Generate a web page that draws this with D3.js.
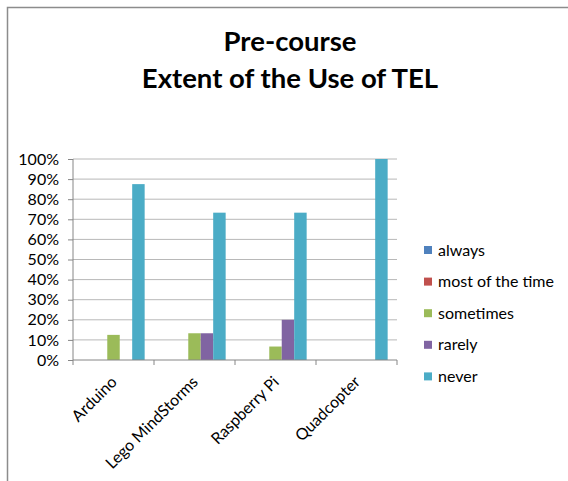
<!DOCTYPE html>
<html>
<head>
<meta charset="utf-8">
<script src="https://cdn.jsdelivr.net/npm/d3@7"></script>
<style>
  body { margin: 0; background: #fff; }
  text { font-family: Lato, "Liberation Sans", sans-serif; fill: #000; }
</style>
</head>
<body>
<svg id="chart"></svg>
<script>
var svgWidth = 568, svgHeight = 481;

var categories = ["Arduino", "Lego MindStorms", "Raspberry Pi", "Quadcopter"];
var seriesNames = ["always", "most of the time", "sometimes", "rarely", "never"];
var seriesColors = ["#4f81bd", "#c0504d", "#9bbb59", "#8064a2", "#4bacc6"];
var always = [0, 0, 0, 0];
var mostOfTheTime = [0, 0, 0, 0];
var sometimes = [0.125, 0.133, 0.067, 0];
var rarely = [0, 0.133, 0.2, 0];
var never = [0.875, 0.733, 0.733, 1.0];
var yTicks = [0, 0.1, 0.2, 0.3, 0.4, 0.5, 0.6, 0.7, 0.8, 0.9, 1.0];

var seriesValues = [always, mostOfTheTime, sometimes, rarely, never];

var plot = {left: 73, right: 397, top: 159, bottom: 360};

var svg = d3.select("#chart")
    .attr("width", svgWidth)
    .attr("height", svgHeight);

// outer frame
svg.append("path")
    .attr("d", "M7.5," + svgHeight + " L7.5,7.5 L" + svgWidth + ",7.5")
    .attr("fill", "none")
    .attr("stroke", "#8c8c8c")
    .attr("stroke-width", 1.5);

// title
var title = svg.append("text")
    .attr("text-anchor", "middle")
    .attr("font-weight", "bold")
    .attr("font-size", 27.5);
title.append("tspan").attr("x", 290).attr("y", 51).text("Pre-course");
title.append("tspan").attr("x", 290).attr("y", 88).text("Extent of the Use of TEL");

var x0 = d3.scaleBand()
    .domain(categories)
    .range([plot.left, plot.right])
    .paddingInner(0)
    .paddingOuter(0);

var groupW = x0.bandwidth();

// excel style: 150% gap between groups
var x1 = d3.scaleBand()
    .domain(seriesNames)
    .range([groupW * 0.75 / 6.5, groupW - groupW * 0.75 / 6.5]);

var y = d3.scaleLinear()
    .domain([0, 1])
    .range([plot.bottom, plot.top]);

// gridlines
svg.append("g")
    .selectAll("line")
    .data(yTicks.slice(1))
    .enter()
    .append("line")
    .attr("x1", plot.left)
    .attr("x2", plot.right)
    .attr("y1", d => y(d))
    .attr("y2", d => y(d))
    .attr("stroke", "#b8b8b8")
    .attr("stroke-width", 1);

// y axis
var yAxis = svg.append("g")
    .attr("transform", "translate(" + plot.left + ",0)")
    .call(d3.axisLeft(y).tickValues(yTicks).tickFormat(d3.format(".0%")).tickSize(5).tickPadding(9));
yAxis.selectAll("text").attr("font-size", 16).attr("font-family", "Lato, sans-serif");
yAxis.selectAll("line, path").attr("stroke", "#868686");
yAxis.select(".domain").attr("d", "M0," + plot.top + "V" + plot.bottom);

// bars
var groups = svg.selectAll("g.cat")
    .data(categories)
    .enter()
    .append("g")
    .attr("class", "cat")
    .attr("transform", d => "translate(" + x0(d) + ",0)");

groups.selectAll("rect")
    .data((d, i) => seriesNames.map((s, j) => ({series: s, value: seriesValues[j][i], color: seriesColors[j]})))
    .enter()
    .append("rect")
    .attr("x", d => x1(d.series))
    .attr("width", x1.bandwidth())
    .attr("y", d => y(d.value))
    .attr("height", d => y(0) - y(d.value))
    .attr("fill", d => d.color);

// x axis
var xAxis = svg.append("g")
    .attr("transform", "translate(0," + plot.bottom + ")");
xAxis.append("line")
    .attr("x1", plot.left).attr("x2", plot.right)
    .attr("stroke", "#868686");
xAxis.selectAll("line.tick")
    .data(d3.range(categories.length + 1))
    .enter()
    .append("line")
    .attr("class", "tick")
    .attr("x1", i => plot.left + i * groupW)
    .attr("x2", i => plot.left + i * groupW)
    .attr("y1", 0).attr("y2", 5)
    .attr("stroke", "#868686");
xAxis.selectAll("text")
    .data(categories)
    .enter()
    .append("text")
    .attr("text-anchor", "end")
    .attr("font-size", 16)
    .attr("transform", d => "translate(" + (x0(d) + groupW / 2 + 4.5) + ",23) rotate(-45)")
    .text(d => d);

// legend
var legend = svg.append("g")
    .selectAll("g")
    .data(seriesNames)
    .enter()
    .append("g")
    .attr("transform", (d, i) => "translate(424," + (250 + i * 31.6) + ")");
legend.append("rect")
    .attr("x", 0).attr("y", -4)
    .attr("width", 8).attr("height", 8)
    .attr("fill", (d, i) => seriesColors[i]);
legend.append("text")
    .attr("x", 14)
    .attr("y", 5.5)
    .attr("font-size", 16)
    .text(d => d);
</script>
</body>
</html>
